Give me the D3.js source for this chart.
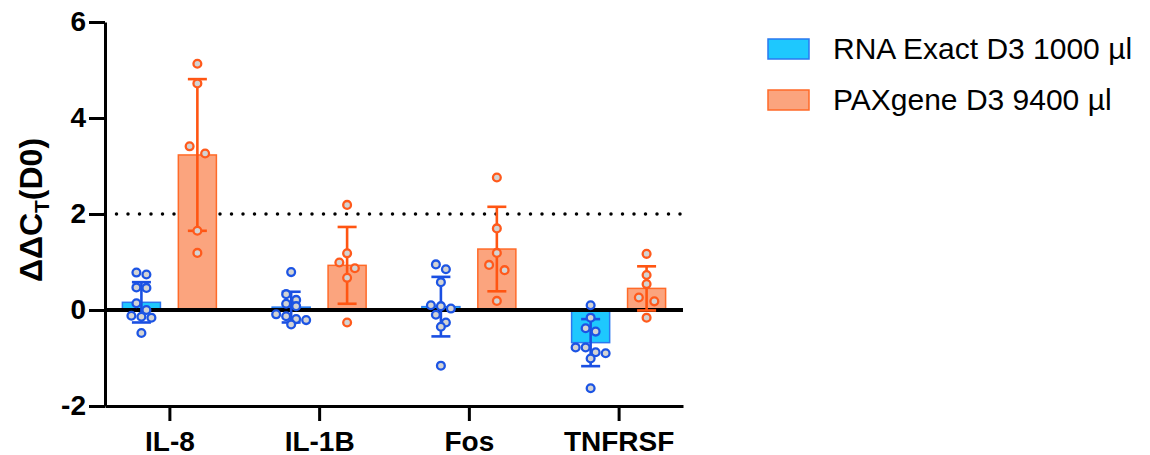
<!DOCTYPE html>
<html>
<head>
<meta charset="utf-8">
<script src="https://cdn.jsdelivr.net/npm/d3@7"></script>
<style>
  body { margin: 0; background: #fff; }
  svg { display: block; font-family: "Liberation Sans", Arial, sans-serif; }
</style>
</head>
<body>
<svg id="chart" width="1150" height="455"></svg>
<script>
// data
const categories = ["IL-8", "IL-1B", "Fos", "TNFRSF"];
const seriesNames = ["RNA Exact D3 1000 µl", "PAXgene D3 9400 µl"];

const rnaMean = [0.16, 0.06, 0.07, -0.68];
const rnaSD = [0.42, 0.32, 0.62, 0.49];
const paxMean = [3.23, 0.93, 1.27, 0.45];
const paxSD = [1.58, 0.80, 0.88, 0.46];

const rnaPoints = [
    [0.78, 0.74, 0.47, 0.46, 0.14, 0.00, -0.12, -0.14, -0.16, -0.48],
    [0.79, 0.33, 0.21, 0.13, 0.08, -0.09, -0.13, -0.19, -0.21, -0.30],
    [0.95, 0.85, 0.58, 0.10, 0.08, 0.03, -0.10, -0.26, -0.35, -1.16],
    [0.10, -0.16, -0.38, -0.45, -0.78, -0.78, -0.88, -0.90, -1.01, -1.63]
];
const paxPoints = [
    [5.13, 4.72, 3.41, 3.26, 1.65, 1.19],
    [2.19, 1.18, 0.99, 0.87, 0.67, -0.26],
    [2.76, 1.70, 1.19, 0.94, 0.83, 0.19],
    [1.17, 0.73, 0.54, 0.26, 0.18, -0.16]
];

const yTicks = [-2, 0, 2, 4, 6];
const refLine = 2;

const styles = [
    { fill: "#1ec8fe", stroke: "#2a78f0", dot: "#1c54e4", err: "#1a4fe2", spread: 10 },
    { fill: "#fba47e", stroke: "#ff6a28", dot: "#ff5a1c", err: "#ff5512", spread: 15.5 }
];
const seriesData = [
    { mean: rnaMean, sd: rnaSD, pts: rnaPoints },
    { mean: paxMean, sd: paxSD, pts: paxPoints }
];

const svg = d3.select("#chart");
const plotLeft = 105, plotRight = 683, plotTop = 22, plotBottom = 406;

const x = d3.scalePoint().domain(categories).range([plotLeft, plotRight]).padding(0.43);
const sub = d3.scaleBand().domain(seriesNames).range([-47, 47]).paddingInner(0.32);
const y = d3.scaleLinear().domain([-2, 6]).range([plotBottom, plotTop]);

// dotted reference line (behind bars)
svg.append("line")
    .attr("x1", plotLeft).attr("x2", plotRight)
    .attr("y1", y(refLine)).attr("y2", y(refLine))
    .attr("stroke", "#000")
    .attr("stroke-width", 3.5)
    .attr("stroke-linecap", "round")
    .attr("stroke-dasharray", "0 11.5");

// bars
seriesNames.forEach((s, si) => {
    const st = styles[si];
    svg.append("g").selectAll("rect")
        .data(categories.map((c, i) => ({ c, v: seriesData[si].mean[i] })))
        .join("rect")
        .attr("x", d => x(d.c) + sub(s))
        .attr("width", sub.bandwidth())
        .attr("y", d => Math.min(y(d.v), y(0)))
        .attr("height", d => Math.abs(y(d.v) - y(0)))
        .attr("fill", st.fill)
        .attr("stroke", st.stroke)
        .attr("stroke-width", 1.5);
});

// zero line
svg.append("line")
    .attr("x1", plotLeft).attr("x2", plotRight)
    .attr("y1", y(0)).attr("y2", y(0))
    .attr("stroke", "#000")
    .attr("stroke-width", 4);

// axes
const yAxis = svg.append("g")
    .attr("transform", `translate(${plotLeft},0)`)
    .call(d3.axisLeft(y).tickValues(yTicks).tickFormat(d => String(d))
        .tickSize(16).tickSizeOuter(0).tickPadding(3));
const xAxis = svg.append("g")
    .attr("transform", `translate(0,${plotBottom})`)
    .call(d3.axisBottom(x).tickSize(15).tickSizeOuter(0).tickPadding(10));

[yAxis, xAxis].forEach(g => {
    g.select(".domain").attr("stroke-width", 3);
    g.selectAll(".tick line").attr("stroke-width", 3);
    g.selectAll(".tick text")
        .attr("fill", "#000")
        .style("font-size", "28px")
        .style("font-weight", "700")
        .style("font-family", "'Liberation Sans', Arial, sans-serif");
});

// error bars (mean ± SD)
seriesNames.forEach((s, si) => {
    const st = styles[si];
    const g = svg.append("g").attr("stroke", st.err).attr("stroke-width", 2.6);
    categories.forEach((c, i) => {
        const cx = x(c) + sub(s) + sub.bandwidth() / 2;
        const m = seriesData[si].mean[i], sd = seriesData[si].sd[i];
        g.append("line").attr("x1", cx).attr("x2", cx).attr("y1", y(m - sd)).attr("y2", y(m + sd));
        [m - sd, m + sd].forEach(v => {
            g.append("line").attr("x1", cx - 9.5).attr("x2", cx + 9.5).attr("y1", y(v)).attr("y2", y(v));
        });
    });
});

// scatter points, spread in rows where they overlap
function rowOffsets(vals, spread) {
    const sorted = vals.map((v, i) => ({ v, i })).sort((a, b) => b.v - a.v);
    const out = new Array(vals.length);
    let row = [];
    const flush = () => {
        row.forEach((p, k) => { out[p.i] = (k - (row.length - 1) / 2) * spread; });
        row = [];
    };
    sorted.forEach(p => {
        if (row.length && y(p.v) - y(row[0].v) >= 8.5) flush();
        row.push(p);
    });
    flush();
    return out;
}

seriesNames.forEach((s, si) => {
    const st = styles[si];
    const g = svg.append("g");
    categories.forEach((c, i) => {
        const cx = x(c) + sub(s) + sub.bandwidth() / 2;
        const vals = seriesData[si].pts[i];
        const offs = rowOffsets(vals, st.spread);
        g.selectAll(null)
            .data(vals)
            .join("circle")
            .attr("cx", (d, k) => cx + offs[k])
            .attr("cy", d => y(d))
            .attr("r", 3.9)
            .attr("fill", "#d3d3d3")
            .attr("stroke", st.dot)
            .attr("stroke-width", 2.3);
    });
});

// y axis title
svg.append("text")
    .attr("transform", `translate(42,${(plotTop + plotBottom) / 2 - 4}) rotate(-90)`)
    .attr("text-anchor", "middle")
    .style("font-size", "32px")
    .style("font-weight", "700")
    .call(t => {
        t.append("tspan").text("ΔΔC");
        t.append("tspan").attr("dy", 7).style("font-size", "21px").text("T");
        t.append("tspan").attr("dy", -7).text("(D0)");
    });

// legend
const legend = svg.append("g");
seriesNames.forEach((s, si) => {
    const st = styles[si];
    const ly = 39 + si * 51;
    legend.append("rect")
        .attr("x", 768).attr("y", ly)
        .attr("width", 41).attr("height", 20)
        .attr("fill", st.fill)
        .attr("stroke", st.stroke)
        .attr("stroke-width", 1.5);
    legend.append("text")
        .attr("x", 833).attr("y", ly + 20)
        .style("font-size", "30px")
        .text(s);
});
</script>
</body>
</html>
